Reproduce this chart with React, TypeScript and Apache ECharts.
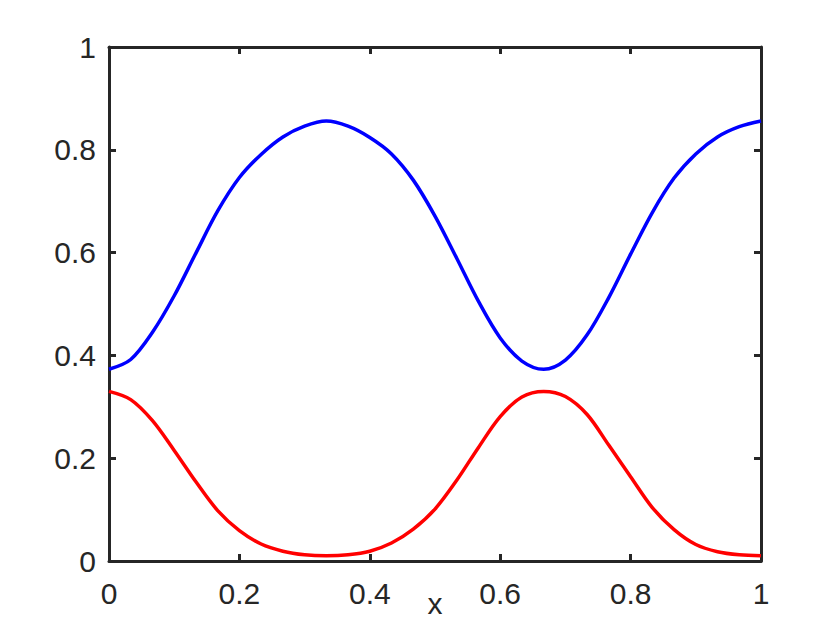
import React, { useEffect, useRef } from "react";
import * as echarts from "echarts";

const xValues = [
  0, 0.0333, 0.0667, 0.1, 0.1333, 0.1667, 0.2, 0.2333, 0.2667, 0.3, 0.3333,
  0.3667, 0.4, 0.4333, 0.4667, 0.5, 0.5333, 0.5667, 0.6, 0.6333, 0.6667,
  0.7, 0.7333, 0.7667, 0.8, 0.8333, 0.8667, 0.9, 0.9333, 0.9667, 1,
];

const blueValues = [
  0.373, 0.392, 0.445, 0.516, 0.599, 0.681, 0.746, 0.791, 0.825, 0.846, 0.856,
  0.846, 0.824, 0.792, 0.741, 0.671, 0.589, 0.505, 0.434, 0.389, 0.373,
  0.391, 0.44, 0.513, 0.597, 0.678, 0.745, 0.792, 0.825, 0.845, 0.856,
];

const redValues = [
  0.33, 0.314, 0.273, 0.215, 0.154, 0.098, 0.059, 0.033, 0.019, 0.012, 0.01,
  0.012, 0.019, 0.035, 0.062, 0.101, 0.157, 0.221, 0.281, 0.319, 0.33,
  0.32, 0.285, 0.225, 0.164, 0.104, 0.061, 0.032, 0.018, 0.012, 0.01,
];

const tickLabels = ["0", "0.2", "0.4", "0.6", "0.8", "1"];

const AXIS_COLOR = "#262626";
const FONT = "Liberation Sans, Arial, Helvetica, sans-serif";
const FONT_SIZE = 30;

export default function App() {
  const ref = useRef<HTMLDivElement>(null);

  useEffect(() => {
    if (!ref.current) return;
    document.body.style.margin = "0";
    document.body.style.overflow = "hidden";
    document.documentElement.style.overflow = "hidden";
    const chart = echarts.init(ref.current, null, { renderer: "svg", width: 840, height: 630 });

    const fmt = (v: number) => tickLabels[Math.round(v / 0.2)] ?? String(v);

    const axisCommon = {
      type: "value" as const,
      min: 0,
      max: 1,
      interval: 0.2,
      axisLine: { show: true, onZero: false, lineStyle: { color: AXIS_COLOR, width: 3 } },
      axisTick: { show: true, inside: true, length: 7, lineStyle: { color: AXIS_COLOR, width: 3 } },
      splitLine: { show: false },
    };

    chart.setOption({
      animation: false,
      backgroundColor: "#ffffff",
      grid: {
        left: 109,
        top: 47,
        width: 652,
        height: 514,
        containLabel: false,
        outerBoundsMode: "none",
      },
      xAxis: [
        {
          ...axisCommon,
          position: "bottom",
          name: "x",
          nameLocation: "middle",
          nameGap: 27,
          nameMoveOverlap: false,
          nameTextStyle: { color: AXIS_COLOR, fontSize: FONT_SIZE, fontFamily: FONT },
          axisLabel: { color: AXIS_COLOR, fontSize: FONT_SIZE, fontFamily: FONT, margin: 17, formatter: fmt },
        },
        {
          ...axisCommon,
          position: "top",
          axisLabel: { show: false },
        },
      ],
      yAxis: [
        {
          ...axisCommon,
          position: "left",
          axisLabel: { color: AXIS_COLOR, fontSize: FONT_SIZE, fontFamily: FONT, margin: 13, formatter: fmt },
        },
        {
          ...axisCommon,
          position: "right",
          axisLabel: { show: false },
        },
      ],
      series: [
        {
          type: "line",
          data: xValues.map((x, i) => [x, blueValues[i]]),
          smooth: 0.33,
          showSymbol: false,
          lineStyle: { color: "#0000ff", width: 3.5 },
          itemStyle: { color: "#0000ff" },
        },
        {
          type: "line",
          data: xValues.map((x, i) => [x, redValues[i]]),
          smooth: 0.33,
          showSymbol: false,
          lineStyle: { color: "#ff0000", width: 3.5 },
          itemStyle: { color: "#ff0000" },
        },
      ],
    });

    return () => chart.dispose();
  }, []);

  return (
    <div
      ref={ref}
      style={{ width: 840, height: 630, position: "fixed", left: 0, top: 0, overflow: "hidden", background: "#fff" }}
    />
  );
}
